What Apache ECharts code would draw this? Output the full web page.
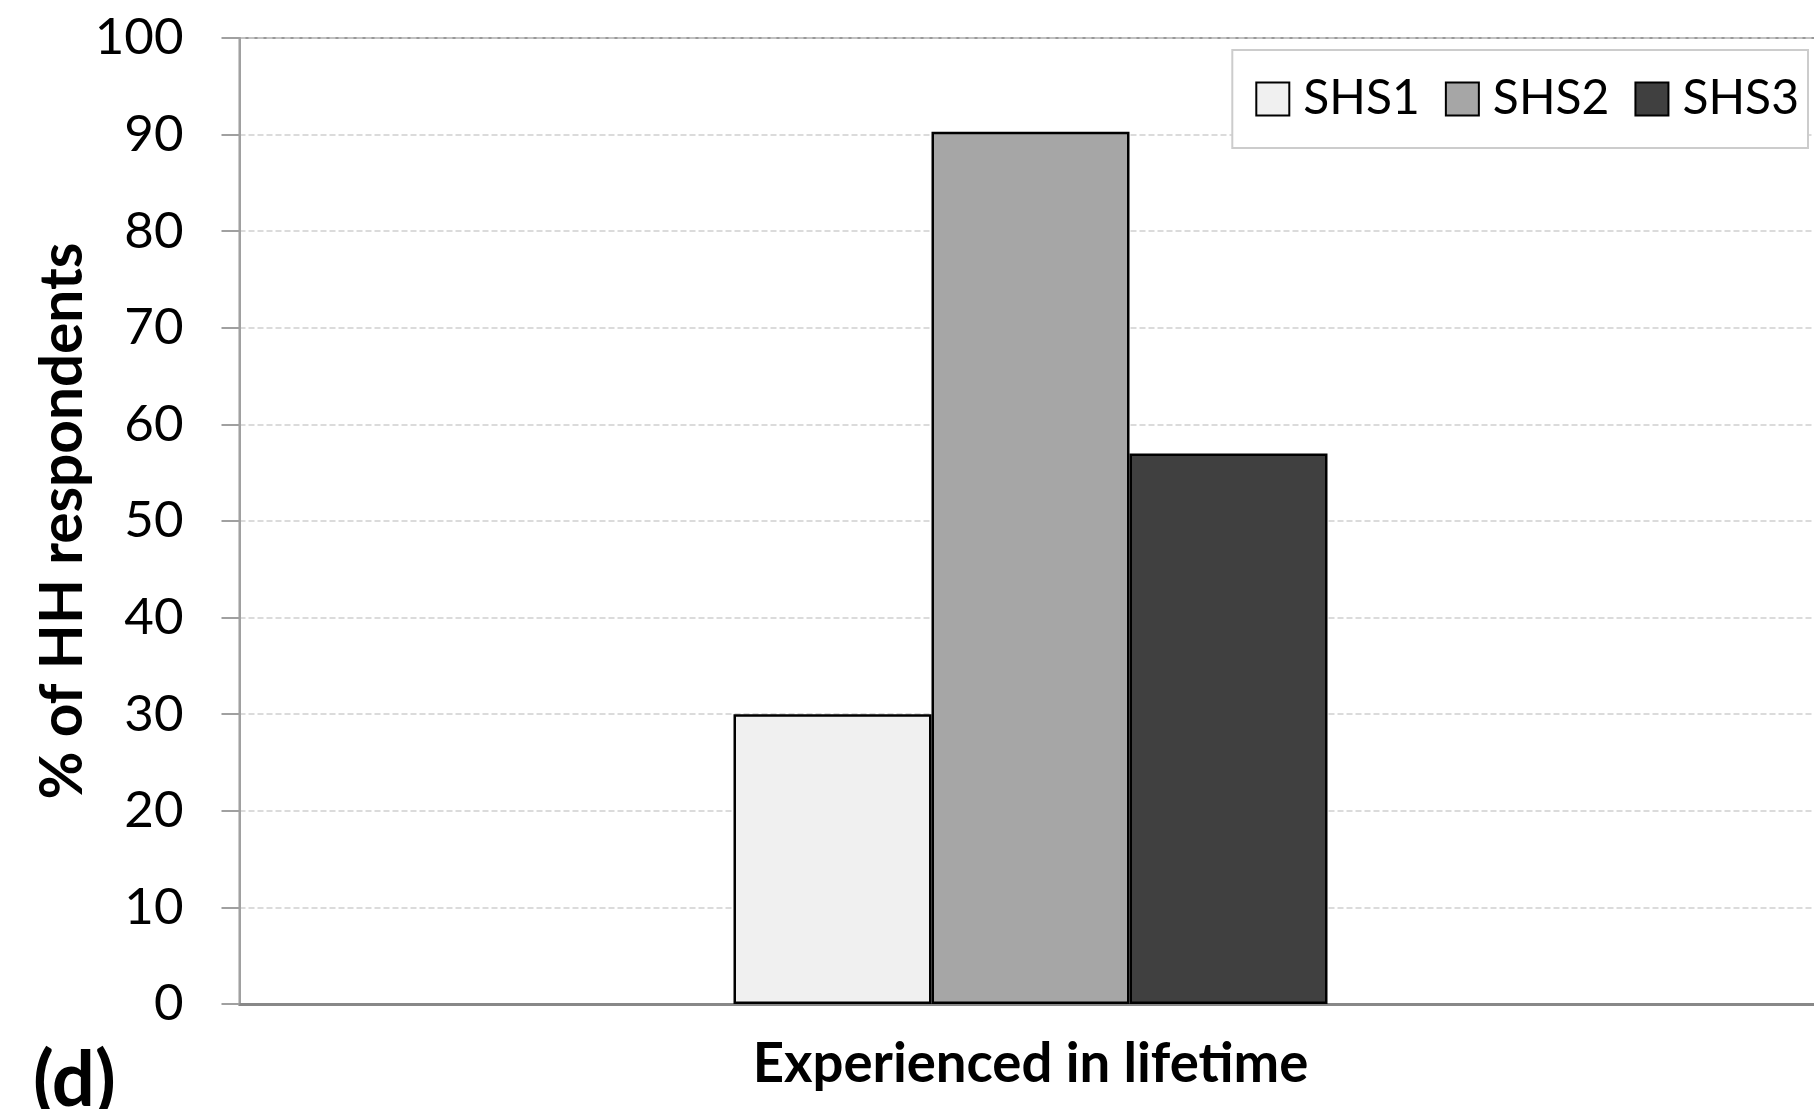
<!DOCTYPE html>
<html>
<head>
<meta charset="utf-8">
<script src="https://cdn.jsdelivr.net/npm/echarts@6/dist/echarts.min.js"></script>
<style>
html,body{margin:0;padding:0;background:#fff;}
#chart{width:1814px;height:1109px;}
</style>
</head>
<body>
<div id="chart"></div>
<script>
const categories = ['Experienced in lifetime'];
const seriesNames = ['SHS1', 'SHS2', 'SHS3'];
const shs1 = [30];
const shs2 = [90.3];
const shs3 = [57];
const yTicks = [0, 10, 20, 30, 40, 50, 60, 70, 80, 90, 100];
const colors = ['#f0f0f0', '#a6a6a6', '#404040'];

const FONT = 'Lato';
const chart = echarts.init(document.getElementById('chart'), null, {renderer: 'canvas'});
const values = [shs1, shs2, shs3];

chart.setOption({
  animation: false,
  backgroundColor: '#ffffff',
  grid: {
    left: 239.5, top: 38, width: 1582, bottom: 105,
    outerBoundsMode: 'none', containLabel: false,
    show: true, borderColor: '#999999', borderWidth: 2, backgroundColor: 'transparent'
  },
  legend: {
    data: seriesNames,
    right: 6, top: 50,
    orient: 'horizontal',
    icon: 'rect',
    itemWidth: 33, itemHeight: 33, itemGap: 25,
    padding: [25, 9, 25, 23],
    borderColor: '#cccccc', borderWidth: 2,
    backgroundColor: '#ffffff',
    textStyle: {fontFamily: FONT, fontSize: 48, color: '#000', padding: [0, 0, 0, 9]},
    itemStyle: {borderColor: '#000', borderWidth: 2}
  },
  xAxis: {
    type: 'category',
    data: categories,
    axisLine: {show: true, lineStyle: {color: '#888888', width: 3}},
    axisTick: {show: false},
    axisLabel: {fontFamily: FONT, fontWeight: 'bold', fontSize: 54.5, color: '#000', margin: 33},
    splitLine: {show: false}
  },
  yAxis: {
    type: 'value',
    min: yTicks[0], max: yTicks[yTicks.length - 1], interval: yTicks[1] - yTicks[0],
    name: '% of HH respondents',
    nameLocation: 'middle',
    nameGap: 147,
    nameMoveOverlap: false,
    nameTextStyle: {fontFamily: FONT, fontWeight: 'bold', fontSize: 58.5, color: '#000'},
    axisLine: {show: true, lineStyle: {color: '#a0a0a0', width: 2}},
    axisTick: {show: true, inside: false, length: 18, lineStyle: {color: '#a0a0a0', width: 2}},
    axisLabel: {fontFamily: FONT, fontSize: 51, color: '#000', margin: 56},
    splitLine: {show: true, lineStyle: {color: '#d0d0d0', width: 1.5, type: [6, 3]}}
  },
  graphic: [{
    type: 'text', left: 33, top: 1043,
    style: {text: '(d)', fontFamily: FONT, fontWeight: 'bold', fontSize: 76, fill: '#000'}
  }],
  series: seriesNames.map((n, i) => ({
    name: n,
    type: 'bar',
    data: values[i],
    barWidth: 198,
    barGap: '0%',
    itemStyle: {color: colors[i], borderColor: '#000', borderWidth: 2.5}
  }))
});
</script>
</body>
</html>
